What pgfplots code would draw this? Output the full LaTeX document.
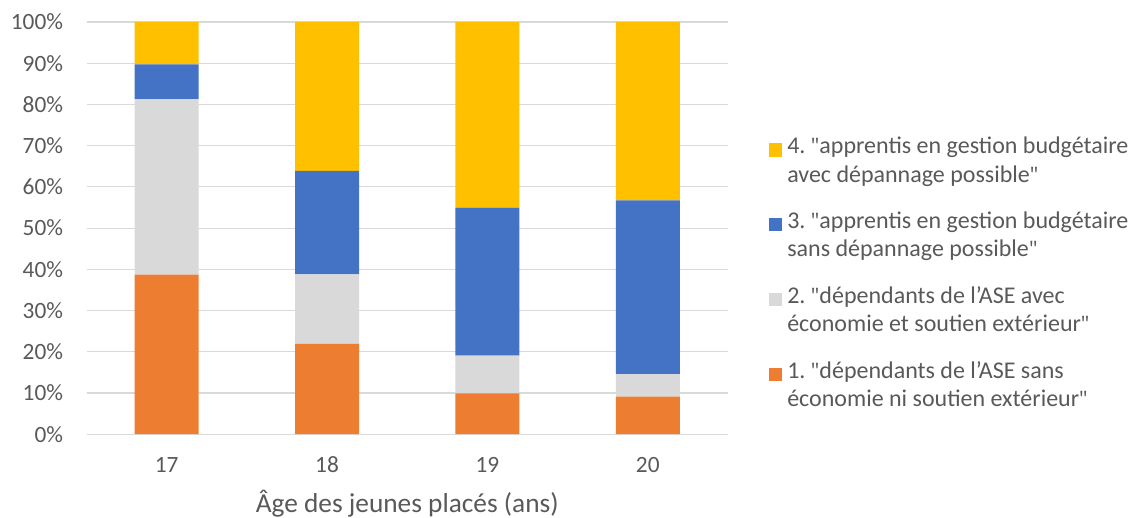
\documentclass[border=0pt]{standalone}
\usepackage{fontspec}
\setmainfont{Carlito}
\newfontfamily\qf{Open Sans}
\usepackage{pgfplots}
\usepackage{pgfplotstable}
\pgfplotsset{compat=1.18}
\frenchspacing
\definecolor{cOrange}{HTML}{ED7D31}
\definecolor{cGray}{HTML}{D9D9D9}
\definecolor{cBlue}{HTML}{4472C4}
\definecolor{cYellow}{HTML}{FFC000}
\definecolor{txt}{HTML}{595959}
\definecolor{gridc}{HTML}{D9D9D9}
\newcommand{\q}{{\qf\fontsize{16}{21.25}\selectfont\symbol{34}}}
\pgfplotstableread{
x o g b y
0 38.7 42.6 8.4 10.3
1 21.9 16.9 25.1 36.1
2 9.9 9.2 35.9 45.0
3 9.1 5.5 42.1 43.3
}\data
\begin{document}
\begin{tikzpicture}
\useasboundingbox (-64.9pt,-62.8pt) rectangle (786.4pt,325.7pt);
\begin{axis}[
  at={(0,0)}, anchor=south west,
  scale only axis, width=481.1pt, height=309.2pt,
  ybar stacked, bar width=48pt,
  xmin=-0.5, xmax=3.5, ymin=0, ymax=100,
  xtick=data, xticklabels={17,18,19,20},
  ytick={0,10,...,100},
  yticklabel={\pgfmathprintnumber{\tick}\%},
  /pgf/number format/assume math mode=true,
  ymajorgrids, grid style={draw=gridc, line width=0.9pt},
  axis line style={draw=none},
  major tick length=0pt,
  tick label style={font=\fontsize{17.5}{21}\selectfont, text=txt, inner sep=0pt},
  yticklabel style={anchor=east, xshift=-17.4pt},
  xticklabel style={anchor=base, yshift=-29pt},
  xlabel={Âge des jeunes placés (ans)},
  xlabel style={at={(axis description cs:0.5,0)}, anchor=base, yshift=-59pt, font=\fontsize{20.5}{25}\selectfont, text=txt, inner sep=0pt},
  legend cell align=left,
  reverse legend,
  legend image code/.code={\fill[#1] (0pt,3pt) rectangle (10pt,13pt);},
  legend style={at={(1.0639,0.721)}, anchor=north west, draw=none, fill=none,
    inner sep=0pt, outer sep=0pt, row sep=20.8pt, column sep=3.75pt,
    nodes={inner sep=0pt, text=txt, font=\fontsize{18}{21.25}\selectfont, align=left}},
]
\addplot[fill=cOrange, draw=none] table[x=x,y=o]{\data};
\addlegendentry{1. \q dépendants de l’ASE sans\\économie ni soutien extérieur\q}
\addplot[fill=cGray, draw=none] table[x=x,y=g]{\data};
\addlegendentry{2. \q dépendants de l’ASE avec\\économie et soutien extérieur\q}
\addplot[fill=cBlue, draw=none] table[x=x,y=b]{\data};
\addlegendentry{3. \q apprentis en gestion budgétaire\\sans dépannage possible\q}
\addplot[fill=cYellow, draw=none] table[x=x,y=y]{\data};
\addlegendentry{4. \q apprentis en gestion budgétaire\\avec dépannage possible\q}
\end{axis}
\end{tikzpicture}
\end{document}
